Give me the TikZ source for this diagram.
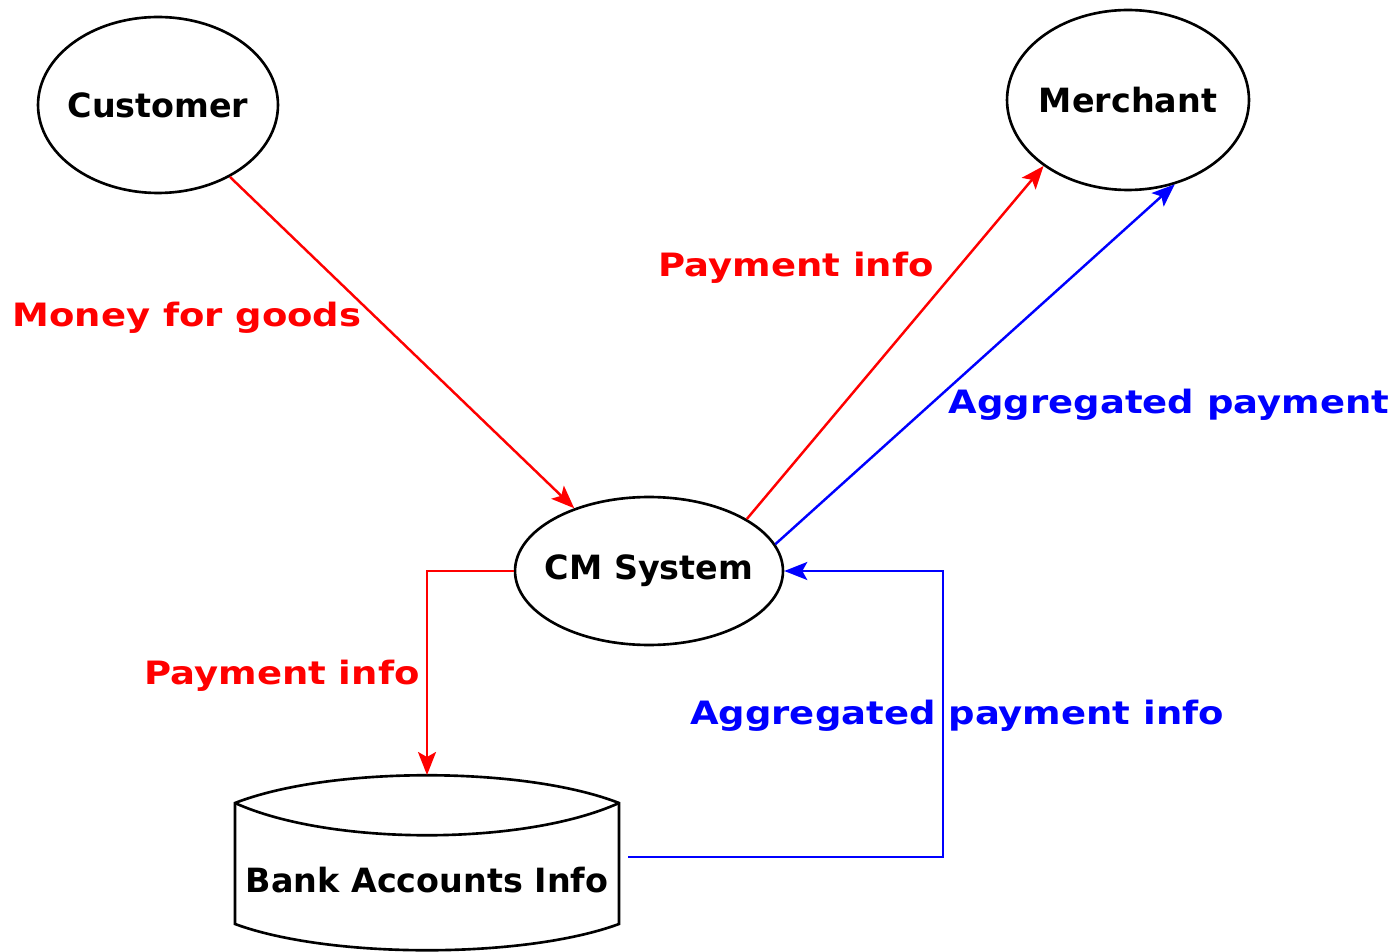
\documentclass[tikz,border=0pt]{standalone}
\usepackage{fontspec}
\setmainfont{DejaVu Sans}
\newfontfamily\flowfont{DejaVu Sans Bold}[FakeStretch=1.15]
\usetikzlibrary{shapes.geometric,arrows.meta}

\begin{document}
\begin{tikzpicture}
[x=0.02cm,y=-0.02cm,
  nodeDecorate/.style={shape=ellipse,draw,line width=1.5pt,inner xsep=-1.5cm,inner ysep=0pt,font=\fontsize{19}{23}\selectfont\bfseries},%
  labelDecorate/.style={inner sep=0pt,font=\fontsize{18.3}{22}\flowfont},%
  lineDecorate/.style={line width=1.4pt,-{Stealth[length=0.46cm,width=0.36cm,inset=0.1cm]}}]
\useasboundingbox (0,0) rectangle (1399,952);
%% entities
\foreach \nodename/\x/\y/\w/\h/\txt in {
  customer/158/105/4.8/3.52/Customer, merchant/1128/100/4.84/3.6/Merchant, cm/649/571/5.36/2.96/CM System}
{
  \node (\nodename) at (\x,\y) [nodeDecorate,minimum width=\w cm,minimum height=\h cm] {\txt};
}
%% data store
\draw[line width=1.5pt] (235,803) .. controls (330,766) and (524,766) .. (619,803)
  -- (619,924) .. controls (524,959) and (330,959) .. (235,924) -- cycle;
\draw[line width=1.5pt] (235,803) .. controls (330,846) and (524,846) .. (619,803);
\node (bank) at (427,880) [inner sep=0pt,font=\fontsize{19}{23}\selectfont\bfseries] {Bank Accounts Info};
\coordinate (bankTop) at (427,775);
\coordinate (bankRight) at (628,857);
\coordinate (loopCorner) at (943,571);
%% flows
\path
\foreach \startnode/\endnode/\col in {
  customer.-45/cm.140/red, cm.28/merchant.-142/red, cm.12/merchant.-61/blue}
{
  (\startnode) edge[lineDecorate,\col] (\endnode)
};
\draw[lineDecorate,red] (cm.west) -| (bankTop);
\draw[lineDecorate,blue] (bankRight) -| (loopCorner) -- (cm.east);
%% labels
\node (moneyLabel) at (187,318) [labelDecorate,red] {Money for goods};
\node (payTopLabel) at (796,268) [labelDecorate,red] {Payment info};
\node (aggLabel) at (1169,405) [labelDecorate,blue] {Aggregated payment};
\node (payLowLabel) at (282,676) [labelDecorate,red] {Payment info};
\node (aggInfoLabel) at (957,716) [labelDecorate,blue] {Aggregated payment info};
\end{tikzpicture}
\end{document}
